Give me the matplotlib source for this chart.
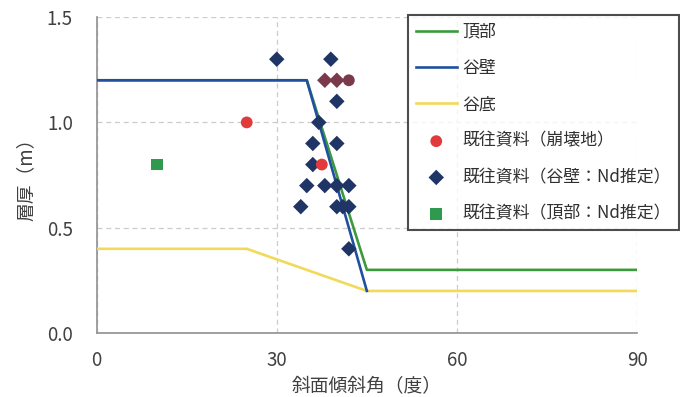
import matplotlib
matplotlib.use("Agg")
import matplotlib.pyplot as plt

plt.rcParams['font.family'] = ['Noto Sans CJK JP', 'DejaVu Sans']

# Model lines: slope angle (deg) vs. soil thickness (m)
top_x = [0, 35, 45, 90]
top_y = [1.2, 1.2, 0.3, 0.3]
wall_x = [0, 35, 45]
wall_y = [1.2, 1.2, 0.2]
floor_x = [0, 25, 45, 90]
floor_y = [0.4, 0.4, 0.2, 0.2]

# Existing data: collapse sites
collapse_x = [25, 37.5]
collapse_y = [1.0, 0.8]
# Existing data: valley wall (Nd estimate)
wallpts_x = [30, 39, 40, 37, 36, 40, 36, 35, 38, 40, 42, 34, 40, 41, 42, 42]
wallpts_y = [1.3, 1.3, 1.1, 1.0, 0.9, 0.9, 0.8, 0.7, 0.7, 0.7, 0.7, 0.6, 0.6, 0.6, 0.6, 0.4]
# Existing data: ridge top (Nd estimate)
toppts_x = [10]
toppts_y = [0.8]
# Overlapping records at 1.2 m
hl_dia_x = [38, 40]
hl_dia_y = [1.2, 1.2]
hl_circ_x = [42]
hl_circ_y = [1.2]

fig = plt.figure(figsize=(6.8, 3.97), dpi=100)
ax = fig.add_axes([0.142, 0.161, 0.795, 0.796])

ax.plot(top_x, top_y, color='#3c9a3c', lw=1.9, label='頂部', zorder=3)
ax.plot(wall_x, wall_y, color='#2150a0', lw=1.9, label='谷壁', zorder=4)
ax.plot(floor_x, floor_y, color='#f2d95a', lw=1.9, label='谷底', zorder=3)

ax.scatter(collapse_x, collapse_y, marker='o', s=72, color='#e23a3a',
           label='既往資料（崩壊地）', zorder=6, edgecolors='none')
ax.scatter(wallpts_x, wallpts_y, marker='D', s=62, color='#1f3566',
           label='既往資料（谷壁：Nd推定）', zorder=5, edgecolors='none')
ax.scatter(toppts_x, toppts_y, marker='s', s=72, color='#2e9a4e',
           label='既往資料（頂部：Nd推定）', zorder=5, edgecolors='none')
ax.scatter(hl_dia_x, hl_dia_y, marker='D', s=62, color='#7a3a4c',
           zorder=5, edgecolors='none')
ax.scatter(hl_circ_x, hl_circ_y, marker='o', s=72, color='#7a3a4c',
           zorder=5, edgecolors='none')

ax.set_xlim(0, 90)
ax.set_ylim(0, 1.5)
ax.set_xticks([0, 30, 60, 90])
ax.set_yticks([0.0, 0.5, 1.0, 1.5])
ax.set_yticklabels(['0.0', '0.5', '1.0', '1.5'])
ax.tick_params(length=0, labelsize=13.5, colors='#404040')
ax.tick_params(axis='x', pad=12)
ax.tick_params(axis='y', pad=17)
ax.grid(True, color='#cccccc', lw=0.9, ls=(0, (4, 3)))
for s in ['top', 'right']:
    ax.spines[s].set_visible(False)
for s in ['left', 'bottom']:
    ax.spines[s].set_color('#909090')
    ax.spines[s].set_linewidth(1.2)

ax.set_xlabel('斜面傾斜角（度）', fontsize=13.5, color='#404040', labelpad=4)
ax.set_ylabel('層厚（m）', fontsize=13.5, color='#404040', labelpad=7)

leg = fig.legend(loc='upper right', bbox_to_anchor=(0.998, 0.962),
                 fontsize=12.2, frameon=True, fancybox=False,
                 handlelength=2.4, handletextpad=0.35, labelspacing=1.08,
                 borderpad=0.45, borderaxespad=0)
leg.get_frame().set_edgecolor('#202020')
leg.get_frame().set_linewidth(1.5)
for t in leg.get_texts():
    t.set_color('#303030')

fig.savefig('out.png', dpi=100, facecolor='white')
